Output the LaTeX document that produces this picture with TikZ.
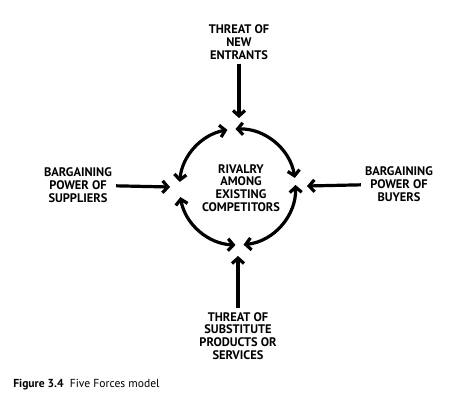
\documentclass[tikz,border=0pt]{standalone}
\usepackage{fontspec}
\setmainfont{PT Sans}
\usetikzlibrary{arrows.meta}
\begin{document}
\begin{tikzpicture}[x=0.75pt,y=0.75pt,
    force/.style={line width=2.4pt,-{Straight Barb[length=4pt,width=9pt]}},
    ring/.style={line width=2.4pt,{Straight Barb[length=4pt,width=9pt]}-{Straight Barb[length=4pt,width=9pt]}},
    label/.style={align=center,inner sep=3pt,font=\fontsize{9.3}{9.6}\selectfont\bfseries}]
\useasboundingbox (0,0) rectangle (460,411);
% outer forces
\node[label] (entrants) at (239,369) {THREAT OF\\NEW\\ENTRANTS};
\node[label] (suppliers) at (78,226) {BARGAINING\\POWER OF\\SUPPLIERS};
\node[label] (buyers) at (399,227) {BARGAINING\\POWER OF\\BUYERS};
\node[label] (substitutes) at (238,75) {THREAT OF\\SUBSTITUTE\\PRODUCTS OR\\SERVICES};
\node[label] (rivalry) at (241,223) {RIVALRY\\AMONG\\EXISTING\\COMPETITORS};
% arrow ends at the ring
\coordinate (topin) at (239,293);
\coordinate (leftin) at (170,224);
\coordinate (rightin) at (307,225);
\coordinate (bottomin) at (238,155);
\draw[force] (entrants) -- (topin);
\draw[force] (suppliers) -- (leftin);
\draw[force] (buyers) -- (rightin);
\draw[force] (substitutes) -- (bottomin);
% the ring
\coordinate (mid) at (237.5,224);
\draw[ring] (mid) ++(100:43.5pt) arc[start angle=100,end angle=175,radius=43.5pt];
\draw[ring] (mid) ++(190:43.5pt) arc[start angle=190,end angle=268,radius=43.5pt];
\draw[ring] (mid) ++(276:43.5pt) arc[start angle=276,end angle=362,radius=43.5pt];
\draw[ring] (mid) ++(9:43.5pt) arc[start angle=9,end angle=92,radius=43.5pt];
% caption
\node[anchor=west,inner sep=0pt,font=\fontsize{8.7}{10}\selectfont] (caption) at (13,26) {\textbf{Figure 3.4}\ \ Five Forces model};
\end{tikzpicture}
\end{document}
